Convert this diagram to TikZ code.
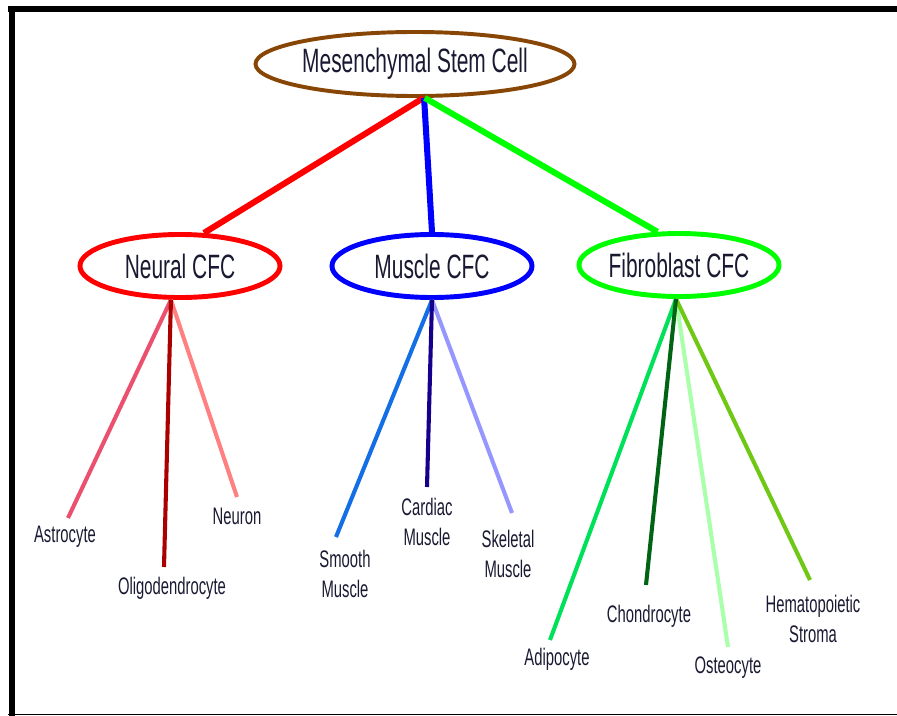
\documentclass[tikz,border=0pt]{standalone}
\usepackage{fontspec}
\setmainfont{Liberation Sans}[FakeStretch=0.62]
\usepackage{tikz}
\usetikzlibrary{shapes.geometric}

\definecolor{txtdark}{RGB}{25,25,50}
\definecolor{mscbrown}{RGB}{135,70,5}
\definecolor{astrocol}{RGB}{235,80,110}
\definecolor{oligocol}{RGB}{170,0,0}
\definecolor{neurocol}{RGB}{255,128,128}
\definecolor{smoothcol}{RGB}{20,110,230}
\definecolor{cardiaccol}{RGB}{20,0,140}
\definecolor{skeletalcol}{RGB}{150,150,255}
\definecolor{adipocol}{RGB}{0,225,90}
\definecolor{chondrocol}{RGB}{0,100,20}
\definecolor{osteocol}{RGB}{170,255,170}
\definecolor{hematocol}{RGB}{110,200,20}

\begin{document}
\begin{tikzpicture}[x=0.025cm, y=-0.025cm,
    oval/.style={ellipse, draw, line width=3.5pt, inner sep=0pt,
      minimum width=5cm, minimum height=1.575cm, text=txtdark,
      font=\fontsize{24}{26}\selectfont},
    cell/.style={align=center, text=txtdark, font=\fontsize{17}{21}\selectfont},
    trunk/.style={line width=4.3pt},
    twig/.style={line width=2.9pt}]
        \useasboundingbox (0,0) rectangle (897,716);
        % Frame
        \fill (8,6) rectangle (897,12);
        \fill (9,6) rectangle (15,716);
        \fill (8,714) rectangle (897,715.4);
        % Ovals
        \node[oval, draw=mscbrown, line width=2.8pt, minimum width=7.75cm,
          minimum height=1.6cm] (msc) at (415,64) {Mesenchymal Stem Cell};
        \node[oval, draw=red] (neural) at (180,266) {Neural CFC};
        \node[oval, draw=blue] (muscle) at (432,266) {Muscle CFC};
        \node[oval, draw=green] (fibro) at (679,265) {Fibroblast CFC};
        % Main branches
        \draw[trunk, red] (msc.-76) -- (neural.54);
        \draw[trunk, blue] (msc.-75) -- (muscle.north);
        \draw[trunk, green] (msc.-74) -- (fibro.123);
        % Neural cells
        \coordinate (astroend) at (68,518);
        \coordinate (oligoend) at (164,567);
        \coordinate (neuroend) at (237,497);
        \node[cell] (astro) at (65,537) {Astrocyte};
        \node[cell] (oligo) at (172,588) {Oligodendrocyte};
        \node[cell] (neuro) at (237,516) {Neuron};
        \draw[twig, astrocol] (neural.255) -- (astroend);
        \draw[twig, neurocol] (neural.255) -- (neuroend);
        \draw[twig, oligocol] (neural.255) -- (oligoend);
        % Muscle cells
        \coordinate (smoothend) at (336,537);
        \coordinate (cardiacend) at (427,487);
        \coordinate (skeletalend) at (512,513);
        \node[cell] (smooth) at (345,574) {Smooth\\Muscle};
        \node[cell] (cardiac) at (427,522) {Cardiac\\Muscle};
        \node[cell] (skeletal) at (508,554) {Skeletal\\Muscle};
        \draw[twig, smoothcol] (muscle.south) -- (smoothend);
        \draw[twig, skeletalcol] (muscle.south) -- (skeletalend);
        \draw[twig, cardiaccol] (muscle.south) -- (cardiacend);
        % Fibroblast cells
        \coordinate (adipoend) at (550,640);
        \coordinate (chondroend) at (646,585);
        \coordinate (osteoend) at (728,647);
        \coordinate (hematoend) at (810,580);
        \node[cell] (adipo) at (557,659) {Adipocyte};
        \node[cell] (chondro) at (649,616) {Chondrocyte};
        \node[cell] (osteo) at (728,668) {Osteocyte};
        \node[cell] (hemato) at (813,619) {Hematopoietic\\Stroma};
        \draw[twig, adipocol] (fibro.265) -- (adipoend);
        \draw[twig, osteocol] (fibro.265) -- (osteoend);
        \draw[twig, hematocol] (fibro.265) -- (hematoend);
        \draw[twig, chondrocol] (fibro.265) -- (chondroend);
\end{tikzpicture}
\end{document}
